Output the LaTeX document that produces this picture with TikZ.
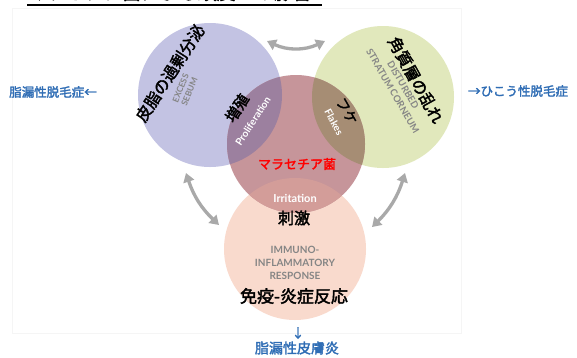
\documentclass[tikz,border=0pt]{standalone}
\usepackage{fontspec}
\setmainfont{Lato}
\newfontfamily\jp[AutoFakeBold=2.2]{Noto Sans CJK JP}
\usetikzlibrary{arrows.meta}
\definecolor{cpurple}{HTML}{C3C3E3}
\definecolor{cgreen}{HTML}{E1E8BC}
\definecolor{cmauve}{HTML}{C6959A}
\definecolor{cpeach}{HTML}{F9DACD}
\definecolor{cpm}{HTML}{9C809F}
\definecolor{cgm}{HTML}{A68D74}
\definecolor{cpeam}{HTML}{D39D99}
\definecolor{cblue}{HTML}{2F6DB5}
\definecolor{cgrayarrow}{HTML}{A9A9A9}
\definecolor{cgraytext}{HTML}{858585}
\tikzset{
  jtext/.style={inner sep=0pt, font=\jp\bfseries\fontsize{16}{18}\selectfont, text=black},
  bluetext/.style={inner sep=0pt, font=\jp\bfseries\fontsize{12.5}{14}\selectfont, text=cblue},
  captext/.style={inner sep=0pt, font=\bfseries\fontsize{9.5}{12}\selectfont, text=cgraytext, align=center},
  whitetext/.style={inner sep=0pt, font=\bfseries\fontsize{10}{12}\selectfont, text=white},
  cycarrow/.style={draw=cgrayarrow, line width=3.3pt, {Triangle[length=9pt,width=11pt]}-{Triangle[length=9pt,width=11pt]}},
  circ/.style={circle, inner sep=0pt, draw=none}
}
\begin{document}
\begin{tikzpicture}[x=1pt,y=-1pt]
\useasboundingbox (0,0) rectangle (577,357);
\fill[white] (0,0) rectangle (577,357);
% faint frame of the embedded picture
\draw[black!4, line width=0.8pt] (12,8) rectangle (461,333);
% title (cut at top)
\node[inner sep=0pt, anchor=base west, font=\jp\bfseries\fontsize{19}{20}\selectfont] (title) at (27,-0.5) {マラセチア菌による頭皮への影響};
\draw[line width=1.8pt] (title.base west) ++(0,5.5) coordinate (ula) -- ++(295,0) coordinate (ulb);
% circles
\node[circ, fill=cpurple, minimum size=144pt] (sebum) at (210,95) {};
\node[circ, fill=cgreen, minimum size=142pt] (corneum) at (383,97) {};
\node[circ, fill=cpeach, minimum size=142pt] (immuno) at (295,249) {};
\node[circ, fill=cmauve, minimum size=138pt] (mala) at (296,144) {};
\begin{scope}
  \clip (210,95) circle (72);
  \fill[cpm] (296,144) circle (69);
\end{scope}
\begin{scope}
  \clip (383,97) circle (71);
  \fill[cgm] (296,144) circle (69);
\end{scope}
\begin{scope}
  \clip (295,249) circle (71);
  \fill[cpeam] (296,144) circle (69);
\end{scope}
% cycle arrows
\coordinate (a1) at (267,41);
\coordinate (a2) at (325,41);
\coordinate (b1) at (186,173);
\coordinate (b2) at (219,225);
\coordinate (c1) at (405,173);
\coordinate (c2) at (372,227);
\draw[cycarrow] (a1) to[bend right=25] (a2);
\draw[cycarrow] (b1) to[bend right=14] (b2);
\draw[cycarrow] (c1) to[bend left=14] (c2);
% purple circle texts
\node[jtext, rotate=57] (t1) at (170,73) {皮脂の過剰分泌};
\node[captext, rotate=68, font=\bfseries\fontsize{8.5}{9.5}\selectfont] (t1e) at (185,90) {EXCESS\\SEBUM};
% green circle texts
\node[jtext, rotate=-61] (t2) at (416,80) {角質層の乱れ};
\node[captext, rotate=-60] (t2e) at (398,88) {DISTURBED\\STRATUM CORNEUM};
% overlaps
\node[jtext, rotate=57, font=\jp\bfseries\fontsize{15}{16}\selectfont] (t3) at (237,108) {増殖};
\node[whitetext, rotate=57] (t3e) at (253,121) {Proliferation};
\node[jtext, rotate=-60, font=\jp\bfseries\fontsize{14}{16}\selectfont] (t4) at (347,111) {フケ};
\node[whitetext, rotate=-62] (t4e) at (334,122) {Flakes};
% center
\node[inner sep=0pt, font=\jp\bfseries\fontsize{13}{14}\selectfont, text=red] (t5) at (297,164) {マラセチア菌};
\node[whitetext, font=\bfseries\fontsize{11}{12}\selectfont] (t6e) at (295,198) {Irritation};
\node[jtext] (t6) at (294,218) {刺激};
\node[captext, font=\bfseries\fontsize{10}{13}\selectfont] (t7e) at (295,263) {IMMUNO-\\INFLAMMATORY\\RESPONSE};
\node[jtext, font=\jp\bfseries\fontsize{17}{18}\selectfont] (t7) at (294,296) {免疫-炎症反応};
% side results
\node[bluetext] (l) at (53,92) {脂漏性脱毛症←};
\node[bluetext] (r) at (518,91) {→ひこう性脱毛症};
\node[bluetext] (d1) at (298,333) {↓};
\node[bluetext, font=\jp\bfseries\fontsize{14}{15}\selectfont] (d2) at (297,348) {脂漏性皮膚炎};
\end{tikzpicture}
\end{document}
